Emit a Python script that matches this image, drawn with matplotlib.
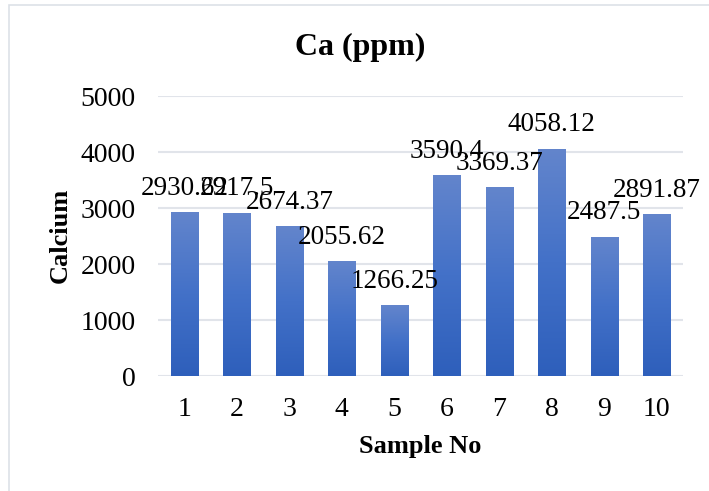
import numpy as np
import matplotlib.pyplot as plt
from matplotlib.colors import LinearSegmentedColormap
from matplotlib.patches import Rectangle

# Datos
samples = ["1", "2", "3", "4", "5", "6", "7", "8", "9", "10"]
calcium = [2930.62, 2917.5, 2674.37, 2055.62, 1266.25, 3590.4, 3369.37, 4058.12, 2487.5, 2891.87]
label_text = ["2930.62", "2917.5", "2674.37", "2055.62", "1266.25", "3590.4", "3369.37", "4058.12", "2487.5", "2891.87"]
y_ticks = [0, 1000, 2000, 3000, 4000, 5000]

plt.rcParams["font.family"] = ["Liberation Serif", "DejaVu Serif"]

fig = plt.figure(figsize=(7.09, 4.91), dpi=100)
ax = fig.add_axes([158 / 709, 1 - 376 / 491, 525 / 709, 280 / 491])

# marco exterior gris claro
fig.patches.append(Rectangle((9 / 709, -0.05), 1.2, 1.05 - 5 / 491, transform=fig.transFigure,
                             fill=False, edgecolor="#dde1e8", linewidth=1.2))

x = np.arange(1, len(samples) + 1)
bars = ax.bar(x, calcium, width=0.52, color="#4472c4", zorder=2)

# degradado en cada barra (más claro arriba)
cmap = LinearSegmentedColormap.from_list("grad", ["#2e5fbb", "#4371c8", "#6385cc"])
grad = np.linspace(0, 1, 256).reshape(-1, 1)
for b in bars:
    bx, by = b.get_x(), b.get_y()
    w, h = b.get_width(), b.get_height()
    im = ax.imshow(grad, cmap=cmap, origin="lower", aspect="auto",
                   extent=[bx, bx + w, by, by + h], zorder=3)
    im.set_clip_path(b)

for xi, v, t in zip(x, calcium, label_text):
    ax.annotate(t, (xi, v), xytext=(0, 12.5), textcoords="offset points",
                ha="center", va="baseline", fontsize=19.5, zorder=4)

ax.set_xlim(0.5, 10.5)
ax.set_ylim(0, 5000)
ax.set_xticks(x)
ax.set_xticklabels(samples)
ax.set_yticks(y_ticks)
ax.tick_params(axis="both", length=0, labelsize=20)
ax.tick_params(axis="x", pad=15)
ax.tick_params(axis="y", pad=16)
ax.grid(axis="y", color="#e1e4ea", linewidth=1.5, zorder=0)
ax.set_axisbelow(True)
for s in ax.spines.values():
    s.set_visible(False)

fig.text(360 / 709, 1 - 47 / 491, "Ca (ppm)", ha="center", va="center", fontsize=23, fontweight="bold")
fig.text(420 / 709, 1 - 447 / 491, "Sample No", ha="center", va="center", fontsize=19, fontweight="bold")
fig.text(60 / 709, 1 - 235 / 491, "Calcium", ha="center", va="center", rotation=90, fontsize=19, fontweight="bold")

fig.savefig("out.png", dpi=100)
